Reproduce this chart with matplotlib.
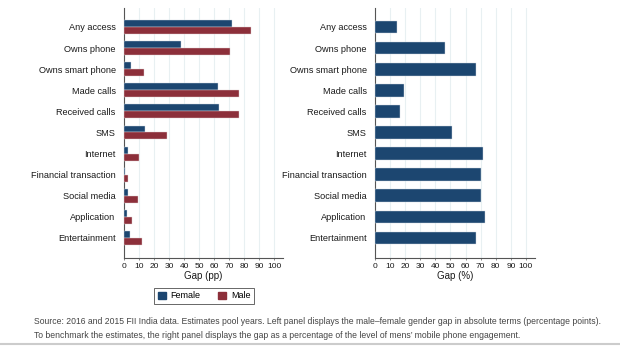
import numpy as np
import matplotlib.pyplot as plt
from matplotlib.patches import Patch

plt.rcParams['font.family'] = ['Liberation Sans Narrow', 'Liberation Sans', 'DejaVu Sans']

categories = ['Any access', 'Owns phone', 'Owns smart phone', 'Made calls', 'Received calls',
              'SMS', 'Internet', 'Financial transaction', 'Social media', 'Application',
              'Entertainment']
female_pp = [72.2, 38.3, 4.7, 62.4, 63.5, 14.0, 2.7, 0.7, 2.7, 1.7, 4.0]
male_pp = [84.4, 70.8, 13.4, 76.9, 76.4, 28.5, 9.8, 2.4, 9.1, 5.3, 12.2]
gap_pct = [14.6, 46.1, 66.9, 19.0, 16.8, 51.3, 71.8, 70.3, 70.1, 73.0, 66.9]
xticks = list(range(0, 101, 10))

blue = '#1c4670'
red = '#8c2f3a'
grid_col = '#e8f0f2'
spine_col = '#555555'

fig = plt.figure(figsize=(6.2, 3.46), dpi=100)
ax1 = fig.add_axes([124/620, 1-258/346, 159/620, 250/346])
ax2 = fig.add_axes([375/620, 1-258/346, 160/620, 250/346])

y = np.arange(len(categories))
h = 0.33
ax1.barh(y - h/2, female_pp, height=h, color=blue, edgecolor='#cfd8e0', linewidth=0.3, zorder=3)
ax1.barh(y + h/2, male_pp, height=h, color=red, edgecolor='#e0cfd2', linewidth=0.3, zorder=3)
ax2.barh(y, gap_pct, height=0.6, color=blue, edgecolor='#cfd8e0', linewidth=0.3, zorder=3)

for ax, xl in [(ax1, 'Gap (pp)'), (ax2, 'Gap (%)')]:
    ax.set_ylim(len(categories) - 1 + 0.95, -0.9)
    ax.set_xlim(0, 106)
    ax.set_yticks(y)
    ax.set_yticklabels(categories, fontsize=6.6, color='#1a1a1a')
    ax.set_xticks(xticks)
    ax.set_xticklabels([str(t) for t in xticks], fontsize=6, color='#1a1a1a')
    ax.tick_params(axis='y', length=0, pad=6)
    ax.tick_params(axis='x', length=1.5, width=0.5, color=spine_col, pad=2)
    ax.set_xlabel(xl, fontsize=7, color='#1a1a1a', labelpad=1)
    ax.xaxis.grid(True, color=grid_col, linewidth=0.8, zorder=0)
    ax.set_axisbelow(True)
    for s in ['top', 'right']:
        ax.spines[s].set_visible(False)
    for s in ['left', 'bottom']:
        ax.spines[s].set_color(spine_col)
        ax.spines[s].set_linewidth(0.8)

handles = [Patch(color=blue, label='Female'), Patch(color=red, label='Male')]
leg = fig.legend(handles=handles, loc='center', bbox_to_anchor=(204/620, 1-296/346), ncol=2,
                 fontsize=6.5, frameon=True, fancybox=False, edgecolor='#222222',
                 handlelength=0.9, handleheight=0.7, handletextpad=0.5,
                 columnspacing=2.0, borderpad=0.35)
leg.get_frame().set_linewidth(0.6)

fig.text(34/620, 1-322/346,
         'Source: 2016 and 2015 FII India data. Estimates pool years. Left panel displays the male\u2013female gender gap in absolute terms (percentage points).',
         fontsize=6.2, color='#444444', va='center')
fig.text(34/620, 1-335/346,
         'To benchmark the estimates, the right panel displays the gap as a percentage of the level of mens\u2019 mobile phone engagement.',
         fontsize=6.2, color='#444444', va='center')
fig.add_artist(plt.Line2D([0, 1], [1-344/346, 1-344/346], color='#cccccc', linewidth=1.5))

fig.savefig('out.png', dpi=100)
